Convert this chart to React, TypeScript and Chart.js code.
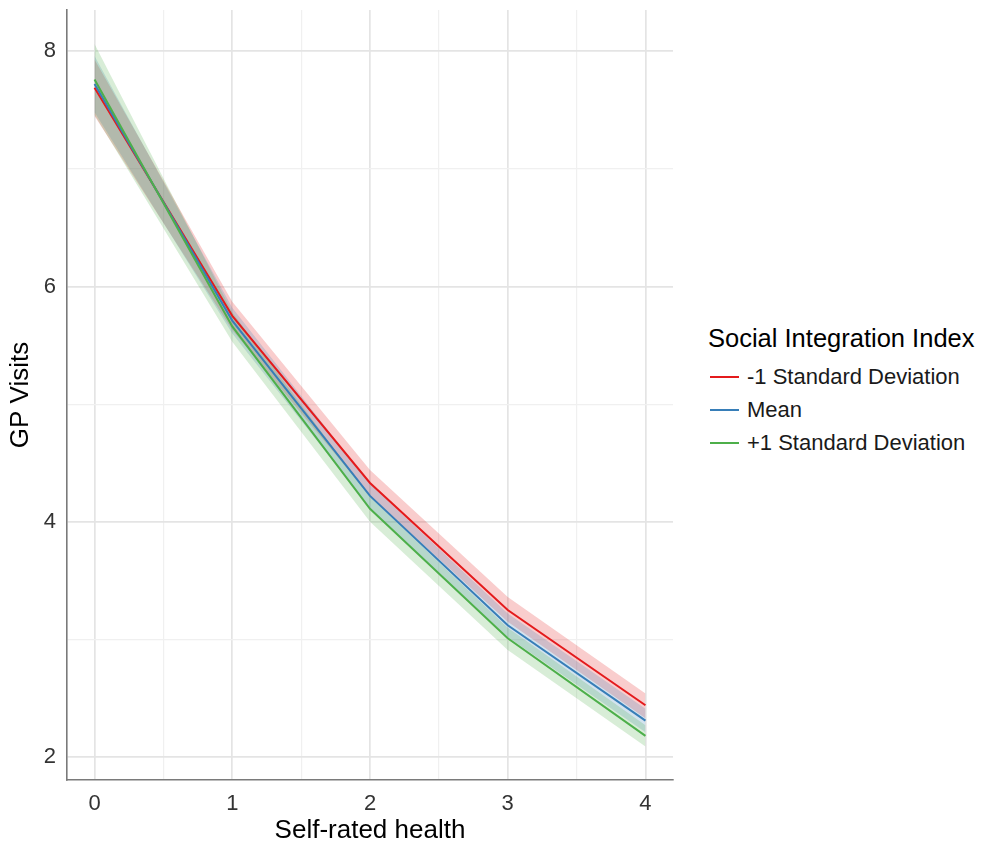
import React, { useEffect, useRef } from "react";
import { Chart, registerables } from "chart.js";

Chart.register(...registerables);

// ---- Data ----
const X_VALUES = [0, 1, 2, 3, 4];
const X_TICKS = [0, 0.5, 1, 1.5, 2, 2.5, 3, 3.5, 4];
const Y_TICKS = [2, 3, 4, 5, 6, 7, 8];

const SERIES_LABELS = ["-1 Standard Deviation", "Mean", "+1 Standard Deviation"];

const LOW_SD_FIT = [7.69, 5.75, 4.33, 3.25, 2.44];
const LOW_SD_UPPER = [7.93, 5.87, 4.44, 3.36, 2.54];
const LOW_SD_LOWER = [7.45, 5.63, 4.22, 3.15, 2.33];

const MEAN_FIT = [7.72, 5.71, 4.22, 3.12, 2.31];
const MEAN_UPPER = [7.96, 5.82, 4.32, 3.22, 2.41];
const MEAN_LOWER = [7.48, 5.6, 4.12, 3.02, 2.21];

const HIGH_SD_FIT = [7.76, 5.66, 4.11, 3.01, 2.18];
const HIGH_SD_UPPER = [8.06, 5.78, 4.21, 3.1, 2.27];
const HIGH_SD_LOWER = [7.46, 5.53, 4.0, 2.91, 2.09];

const LINE_COLORS = ["#E41A1C", "#377EB8", "#4DAF4A"];
const FILL_COLORS = [
  "rgba(228,26,28,0.22)",
  "rgba(55,126,184,0.22)",
  "rgba(77,175,74,0.22)",
];

const FONT = "'Liberation Sans', Arial, sans-serif";

export default function App() {
  const ref = useRef<HTMLCanvasElement>(null);

  useEffect(() => {
    if (!ref.current) return;
    const toPts = (ys: number[]) => X_VALUES.map((x, i) => ({ x, y: ys[i] }));
    const fits = [LOW_SD_FIT, MEAN_FIT, HIGH_SD_FIT];
    const uppers = [LOW_SD_UPPER, MEAN_UPPER, HIGH_SD_UPPER];
    const lowers = [LOW_SD_LOWER, MEAN_LOWER, HIGH_SD_LOWER];

    const datasets: any[] = [];
    for (let s = 0; s < 3; s++) {
      datasets.push({
        label: SERIES_LABELS[s] + " upper",
        data: toPts(uppers[s]),
        borderWidth: 0,
        borderColor: "rgba(0,0,0,0)",
        pointRadius: 0,
        backgroundColor: FILL_COLORS[s],
        fill: "+1",
        order: 12 - s,
      });
      datasets.push({
        label: SERIES_LABELS[s] + " lower",
        data: toPts(lowers[s]),
        borderWidth: 0,
        borderColor: "rgba(0,0,0,0)",
        pointRadius: 0,
        backgroundColor: FILL_COLORS[s],
        fill: false,
        order: 12 - s,
      });
    }
    for (let s = 0; s < 3; s++) {
      datasets.push({
        label: SERIES_LABELS[s],
        data: toPts(fits[s]),
        borderWidth: 2,
        borderColor: LINE_COLORS[s],
        pointRadius: 0,
        fill: false,
        order: 3 - s,
      });
    }

    const gridColor = (ctx: any, isMajor: (v: number) => boolean) =>
      ctx.tick && isMajor(ctx.tick.value) ? "#e4e4e4" : "#f0f0f0";
    const gridWidth = (ctx: any, isMajor: (v: number) => boolean) =>
      ctx.tick && isMajor(ctx.tick.value) ? 1.7 : 1.2;
    const xMajor = (v: number) => Number.isInteger(v);
    const yMajor = (v: number) => v % 2 === 0;

    const chart = new Chart(ref.current, {
      type: "line",
      data: { datasets },
      options: {
        animation: false,
        responsive: false,
        maintainAspectRatio: false,
        layout: { padding: { top: 10, right: 27, left: 0, bottom: 0 } },
        plugins: {
          legend: { display: false },
          tooltip: { enabled: false },
        },
        scales: {
          x: {
            type: "linear",
            min: -0.2,
            max: 4.2,
            afterBuildTicks: (scale: any) => {
              scale.ticks = X_TICKS.map((value) => ({ value }));
            },
            afterFit: (scale: any) => {
              scale.height = 66;
              scale.paddingLeft = 0;
              scale.paddingRight = 0;
            },
            grid: {
              color: (ctx: any) => gridColor(ctx, xMajor),
              lineWidth: (ctx: any) => gridWidth(ctx, xMajor),
              drawTicks: false,
            },
            border: { display: true, color: "#7a7a7a", width: 1.6 },
            ticks: {
              autoSkip: false,
              maxRotation: 0,
              padding: 11,
              color: "#333333",
              font: { family: FONT, size: 22 },
              callback: (v: any) => (Number.isInteger(v) ? String(v) : ""),
            },
            title: {
              display: true,
              text: "Self-rated health",
              color: "#000000",
              font: { family: FONT, size: 26 },
              padding: { top: 0, bottom: 0 },
            },
          },
          y: {
            type: "linear",
            min: 1.805,
            max: 8.35,
            afterBuildTicks: (scale: any) => {
              scale.ticks = Y_TICKS.map((value) => ({ value }));
            },
            afterFit: (scale: any) => {
              scale.width = 67;
              scale.paddingTop = 0;
              scale.paddingBottom = 0;
            },
            grid: {
              color: (ctx: any) => gridColor(ctx, yMajor),
              lineWidth: (ctx: any) => gridWidth(ctx, yMajor),
              drawTicks: false,
            },
            border: { display: true, color: "#7a7a7a", width: 1.6 },
            ticks: {
              autoSkip: false,
              padding: 11,
              color: "#333333",
              font: { family: FONT, size: 22 },
              callback: (v: any) => (v % 2 === 0 ? String(v) : ""),
            },
            title: {
              display: true,
              text: "GP Visits",
              color: "#000000",
              font: { family: FONT, size: 26 },
              padding: { top: 5, bottom: 0 },
            },
          },
        },
      },
    });
    return () => chart.destroy();
  }, []);

  const itemTops = [366, 399, 432];
  const keyYs = [377, 410, 443];

  return (
    <div
      style={{
        position: "absolute",
        left: 0,
        top: 0,
        width: 981,
        height: 846,
        background: "#ffffff",
        fontFamily: FONT,
      }}
    >
      <canvas
        ref={ref}
        width={700}
        height={846}
        style={{ position: "absolute", left: 0, top: 0, width: 700, height: 846, display: "block" }}
      />
      <div
        style={{
          position: "absolute",
          left: 708,
          top: 326,
          fontSize: 25.5,
          lineHeight: "25.5px",
          color: "#000",
          whiteSpace: "nowrap",
        }}
      >
        Social Integration Index
      </div>
      {SERIES_LABELS.map((label, i) => (
        <React.Fragment key={label}>
          <div
            style={{
              position: "absolute",
              left: 710,
              top: keyYs[i] - 1,
              width: 29,
              height: 2,
              background: LINE_COLORS[i],
            }}
          />
          <div
            style={{
              position: "absolute",
              left: 747,
              top: itemTops[i],
              fontSize: 22,
              lineHeight: "22px",
              color: "#1a1a1a",
              whiteSpace: "nowrap",
            }}
          >
            {label}
          </div>
        </React.Fragment>
      ))}
    </div>
  );
}
